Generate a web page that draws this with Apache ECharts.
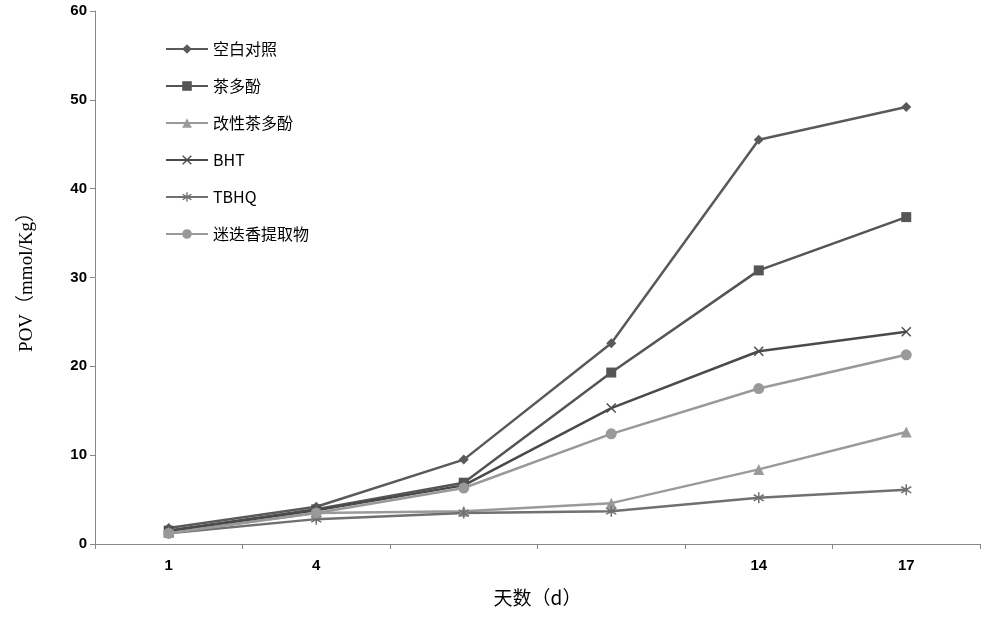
<!DOCTYPE html>
<html><head><meta charset="utf-8">
<script src="https://cdn.jsdelivr.net/npm/echarts@6/dist/echarts.min.js"></script>
<style>body{margin:0}#c{width:1000px;height:624px}</style></head>
<body><div id="c"></div>
<script>
var categories=['1','4','','','14','17'];
var names=['空白对照','茶多酚','改性茶多酚','BHT','TBHQ','迷迭香提取物'];
var blank=[1.8,4.2,9.5,22.6,45.5,49.2];
var teaPoly=[1.5,3.9,6.9,19.3,30.8,36.8];
var modTea=[1.3,3.5,3.7,4.6,8.4,12.6];
var bht=[1.5,3.8,6.6,15.3,21.7,23.9];
var tbhq=[1.2,2.8,3.5,3.7,5.2,6.1];
var rosemary=[1.2,3.5,6.3,12.4,17.5,21.3];
var xPath='path://M1,0L5,4L9,0L10,1L6,5L10,9L9,10L5,6L1,10L0,9L4,5L0,1Z';
var starPath='path://M4.4,0H5.6V3.6L8.6,1.6L9.3,2.6L6.2,5L9.3,7.4L8.6,8.4L5.6,6.4V10H4.4V6.4L1.4,8.4L0.7,7.4L3.8,5L0.7,2.6L1.4,1.6L4.4,3.6Z';
var datas=[blank,teaPoly,modTea,bht,tbhq,rosemary];
var colors=['#5a5a5a','#555555','#9a9a9a','#4a4a4a','#707070','#999999'];
var symbols=['diamond','rect','triangle',xPath,starPath,'circle'];
var sizes=[10,10,11,10,11,11];
var series=names.map(function(n,i){return {name:n,type:'line',data:datas[i],symbol:symbols[i],symbolSize:sizes[i],
 lineStyle:{color:colors[i],width:2.5},itemStyle:{color:colors[i]}};});
echarts.init(document.getElementById('c')).setOption({
 animation:false,
 grid:{left:95,right:20,top:11,bottom:80},
 legend:{orient:'vertical',left:160,top:36,itemGap:21,itemWidth:42,itemHeight:12,
  textStyle:{fontSize:16,color:'#000',fontFamily:'Noto Sans CJK SC'},data:names},
 xAxis:{type:'category',data:categories,boundaryGap:true,
  axisLine:{lineStyle:{color:'#888'}},axisTick:{show:true,length:5,lineStyle:{color:'#888'}},
  axisLabel:{fontWeight:'bold',fontSize:15,color:'#000',margin:14},
  name:'天数（d）',nameLocation:'middle',nameGap:44,nameTextStyle:{fontSize:19,color:'#000',fontFamily:'Noto Sans CJK SC'}},
 yAxis:{type:'value',min:0,max:60,interval:10,splitLine:{show:false},
  axisLine:{show:true,lineStyle:{color:'#888'}},axisTick:{show:true,length:5},
  axisLabel:{fontWeight:'bold',fontSize:15,color:'#000'},
  name:'POV（mmol/Kg）',nameLocation:'middle',nameGap:58,nameRotate:90,
  nameTextStyle:{fontSize:19,color:'#000',fontFamily:'Liberation Serif, Noto Sans CJK SC'}},
 series:series
});
</script></body></html>
